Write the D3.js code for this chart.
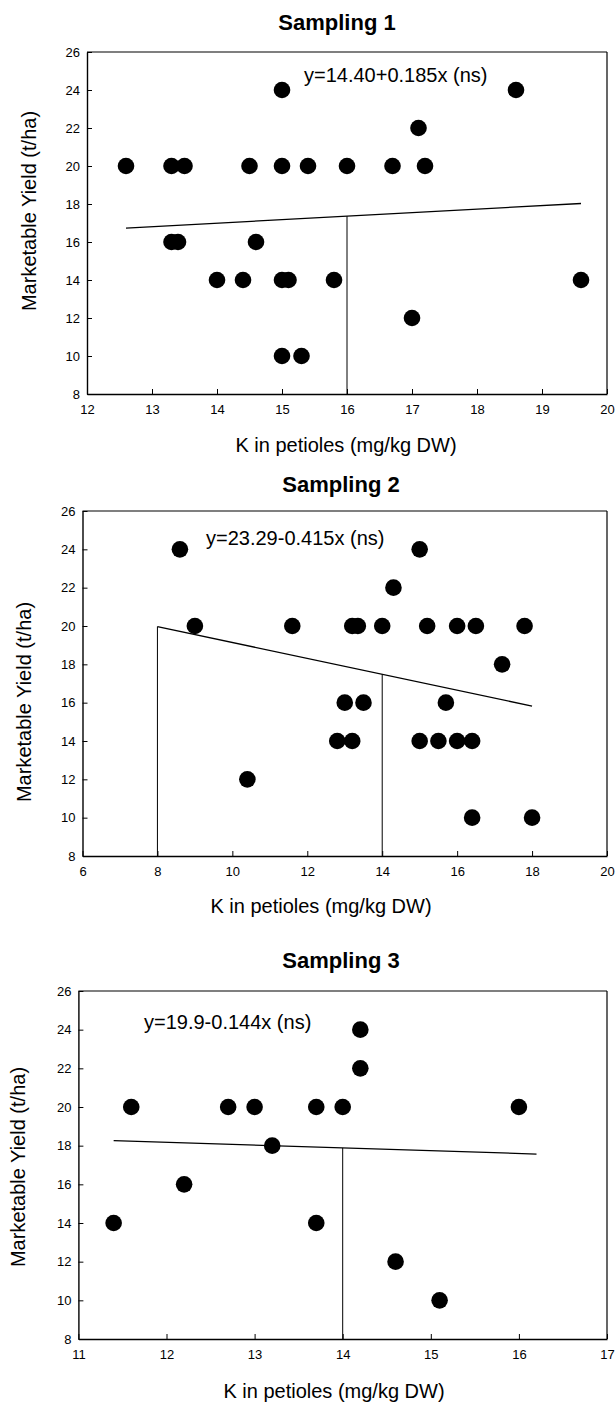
<!DOCTYPE html>
<html><head><meta charset="utf-8">
<script src="https://cdn.jsdelivr.net/npm/d3@7"></script>
<style>
body{margin:0;background:#fff}
svg{display:block}
text{font-family:"Liberation Sans",Arial,sans-serif;fill:#000}
</style>
</head><body>
<svg id="c" width="616" height="1403"></svg>
<script>
// ---- data ----
const titles = ["Sampling 1", "Sampling 2", "Sampling 3"];
const equations = ["y=14.40+0.185x (ns)", "y=23.29-0.415x (ns)", "y=19.9-0.144x (ns)"];
const intercepts = [14.40, 23.29, 19.9];
const slopes = [0.185, -0.415, -0.144];
const fitRanges = [[12.6, 19.6], [8, 18], [11.4, 16.2]];
const dropLines = [[16], [8, 14], [14]];
const xDomains = [[12, 20], [6, 20], [11, 17]];
const xTicks1 = [12, 13, 14, 15, 16, 17, 18, 19, 20];
const xTicks2 = [6, 8, 10, 12, 14, 16, 18, 20];
const xTicks3 = [11, 12, 13, 14, 15, 16, 17];
const yDomain = [8, 26];
const yTicks = [8, 10, 12, 14, 16, 18, 20, 22, 24, 26];
const xLabel = "K in petioles (mg/kg DW)";
const yLabel = "Marketable Yield (t/ha)";

const s1K = [15.0, 18.6, 17.1, 12.6, 13.3, 13.5, 14.5, 15.0, 15.4, 16.0, 16.7, 17.2, 13.3, 13.4, 14.6, 14.0, 14.4, 15.0, 15.1, 15.8, 19.6, 17.0, 15.0, 15.3];
const s1Y = [24, 24, 22, 20, 20, 20, 20, 20, 20, 20, 20, 20, 16, 16, 16, 14, 14, 14, 14, 14, 14, 12, 10, 10];

const s2K = [8.6, 15.0, 14.3, 9.0, 11.6, 13.2, 13.35, 14.0, 15.2, 16.0, 16.5, 17.8, 17.2, 13.0, 13.5, 15.7, 12.8, 13.2, 15.0, 15.5, 16.0, 16.4, 10.4, 16.4, 18.0];
const s2Y = [24, 24, 22, 20, 20, 20, 20, 20, 20, 20, 20, 20, 18, 16, 16, 16, 14, 14, 14, 14, 14, 14, 12, 10, 10];

const s3K = [14.2, 14.2, 11.6, 12.7, 13.0, 13.7, 14.0, 16.0, 13.2, 12.2, 11.4, 13.7, 14.6, 15.1];
const s3Y = [24, 22, 20, 20, 20, 20, 20, 20, 18, 16, 14, 14, 12, 10];

const seriesK = [s1K, s2K, s3K];
const seriesY = [s1Y, s2Y, s3Y];
const xTickSets = [xTicks1, xTicks2, xTicks3];

// ---- layout ----
const layout = [
  {left: 87, right: 607, top: 52, bottom: 394, titleX: 337, titleY: 30, eqX: 304, eqY: 82, xtX: 346, xtY: 452, ytX: 36, ytY: 211},
  {left: 82.5, right: 607, top: 511, bottom: 856, titleX: 341, titleY: 492, eqX: 206, eqY: 545, xtX: 321, xtY: 913, ytX: 31, ytY: 702},
  {left: 78.4, right: 607, top: 991, bottom: 1339, titleX: 341, titleY: 968, eqX: 144, eqY: 1029, xtX: 334, xtY: 1398, ytX: 25, ytY: 1167}
];

const svg = d3.select("#c");
svg.append("rect").attr("width", 616).attr("height", 1403).attr("fill", "#fff");

layout.forEach((L, i) => {
  const x = d3.scaleLinear().domain(xDomains[i]).range([L.left, L.right]);
  const y = d3.scaleLinear().domain(yDomain).range([L.bottom, L.top]);
  const g = svg.append("g");

  // frame (top & right)
  g.append("line").attr("x1", L.left).attr("x2", L.right).attr("y1", L.top).attr("y2", L.top)
    .attr("stroke", "#000").attr("stroke-width", 1.2);
  g.append("line").attr("x1", L.right).attr("x2", L.right).attr("y1", L.top).attr("y2", L.bottom)
    .attr("stroke", "#000").attr("stroke-width", 1.2);

  const xa = g.append("g").attr("transform", `translate(0,${L.bottom})`)
    .call(d3.axisBottom(x).tickValues(xTickSets[i]).tickFormat(d3.format("d")).tickSizeInner(-5).tickSizeOuter(0).tickPadding(11));
  const ya = g.append("g").attr("transform", `translate(${L.left},0)`)
    .call(d3.axisLeft(y).tickValues(yTicks).tickFormat(d3.format("d")).tickSizeInner(-5).tickSizeOuter(0).tickPadding(7));
  [xa, ya].forEach(a => {
    a.select(".domain").attr("stroke", "#000").attr("stroke-width", 1.4);
    a.selectAll(".tick line").attr("stroke", "#000").attr("stroke-width", 1);
    a.selectAll(".tick text").attr("font-size", 13).attr("font-family", '"Liberation Sans",Arial,sans-serif').attr("fill", "#000");
  });

  // drop lines
  const fy = k => intercepts[i] + slopes[i] * k;
  dropLines[i].forEach(k => {
    g.append("line").attr("x1", x(k)).attr("x2", x(k)).attr("y1", y(yDomain[0])).attr("y2", y(fy(k)))
      .attr("stroke", "#000").attr("stroke-width", 1);
  });
  // regression line
  g.append("line")
    .attr("x1", x(fitRanges[i][0])).attr("y1", y(fy(fitRanges[i][0])))
    .attr("x2", x(fitRanges[i][1])).attr("y2", y(fy(fitRanges[i][1])))
    .attr("stroke", "#000").attr("stroke-width", 1.3);

  // points
  g.selectAll("circle.pt").data(d3.range(seriesK[i].length)).enter().append("circle")
    .attr("cx", j => x(seriesK[i][j])).attr("cy", j => y(seriesY[i][j])).attr("r", 8.3).attr("fill", "#000");

  // texts
  g.append("text").attr("x", L.titleX).attr("y", L.titleY).attr("text-anchor", "middle")
    .attr("font-size", 22).attr("font-weight", "bold").text(titles[i]);
  g.append("text").attr("x", L.eqX).attr("y", L.eqY).attr("font-size", 20).text(equations[i]);
  g.append("text").attr("x", L.xtX).attr("y", L.xtY).attr("text-anchor", "middle").attr("font-size", 20).text(xLabel);
  g.append("text").attr("transform", `translate(${L.ytX},${L.ytY}) rotate(-90)`).attr("text-anchor", "middle")
    .attr("font-size", 20).text(yLabel);
});
</script>
</body></html>
